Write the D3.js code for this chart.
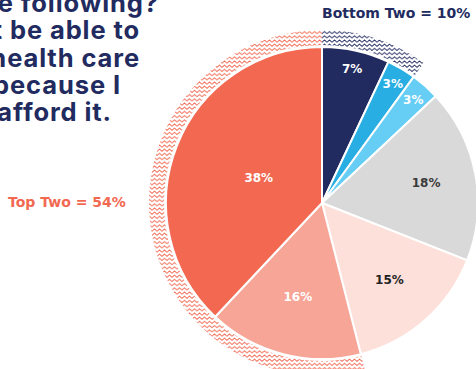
<!DOCTYPE html>
<html><head><meta charset="utf-8">
<script src="https://cdn.jsdelivr.net/npm/d3@7/dist/d3.min.js"></script>
<style>html,body{margin:0;padding:0;background:#fff;overflow:hidden}</style>
</head><body>
<svg id="c" width="476" height="369"></svg>
<script>
const categories = ["Strongly disagree","Disagree","Somewhat disagree","Neutral","Somewhat agree","Agree","Strongly agree"];
const values = [7, 3, 3, 18, 15, 16, 38];
const valueLabels = ["7%","3%","3%","18%","15%","16%","38%"];
const colors = ["#222b60","#29aee3","#66cef4","#d9d9d9","#fde0da","#f7a597","#f26851"];
const labelColors = ["#fff","#fff","#fff","#3a3a3a","#222","#fff","#fff"];
const labelRadius = [138, 139, 138, 106, 102, 97, 68];
const groups = [
  {name:"Bottom Two", total:10, from:0, to:2, color:"#222b60"},
  {name:"Top Two", total:54, from:5, to:7, color:"#f26851"}
];
const titleLines = ["Which of the following?","I might not be able to","get health care","because I","can't afford it."];

const svg = d3.select("#c");
const cx = 322, cy = 203, R = 156;

const defs = svg.append("defs");
groups.forEach((g,i)=>{
  const p = defs.append("pattern").attr("id","zz"+i).attr("patternUnits","userSpaceOnUse")
    .attr("width",5).attr("height",4.2);
  p.append("path").attr("d","M0,3 L2.5,0.8 L5,3").attr("fill","none")
    .attr("stroke",g.color).attr("stroke-width",0.9);
});

const pie = d3.pie().sort(null).value(d=>d)(values);
const arc = d3.arc().innerRadius(0).outerRadius(R);
const g = svg.append("g").attr("transform",`translate(${cx},${cy})`);

// zigzag bands
const band = d3.arc().innerRadius(158).outerRadius(173);
groups.forEach((gr,i)=>{
  g.append("path").attr("d", band({startAngle: pie[gr.from].startAngle, endAngle: pie[gr.to-1].endAngle}))
    .attr("fill",`url(#zz${i})`);
});

g.selectAll("path.s").data(pie).join("path").attr("class","s")
  .attr("d",arc).attr("fill",(d,i)=>colors[i]).attr("stroke","#fff").attr("stroke-width",2);

g.selectAll("text.l").data(pie).join("text").attr("class","l")
  .attr("transform",(d,i)=>{ const a=(d.startAngle+d.endAngle)/2; const r=labelRadius[i];
     return `translate(${r*Math.sin(a)},${-r*Math.cos(a)})`; })
  .attr("text-anchor","middle").attr("dy","0.36em")
  .attr("font-family","'DejaVu Sans', sans-serif").attr("font-weight",700).attr("font-size",12)
  .attr("fill",(d,i)=>labelColors[i]).text((d,i)=>valueLabels[i]);

// title
const ends = [159, 140, 140, 121, 112];
const bases = [11.8, 39.2, 66.6, 94, 121.4];
svg.selectAll("text.t").data(titleLines).join("text").attr("class","t")
  .attr("x",(d,i)=>ends[i]).attr("y",(d,i)=>bases[i]).attr("text-anchor","end")
  .attr("font-family","Inter, 'Liberation Sans', sans-serif").attr("font-weight",700).attr("font-size",25.5)
  .attr("letter-spacing",0.9)
  .attr("fill","#222b60").text(d=>d);

svg.append("text").attr("x",8).attr("y",207)
  .attr("font-family","'DejaVu Sans', sans-serif").attr("font-weight",700).attr("font-size",14)
  .attr("fill","#f26851").text(`${groups[1].name} = ${groups[1].total}%`);
svg.append("text").attr("x",322).attr("y",18)
  .attr("font-family","'DejaVu Sans', sans-serif").attr("font-weight",700).attr("font-size",14)
  .attr("fill","#222b60").text(`${groups[0].name} = ${groups[0].total}%`);
</script>
</body></html>
